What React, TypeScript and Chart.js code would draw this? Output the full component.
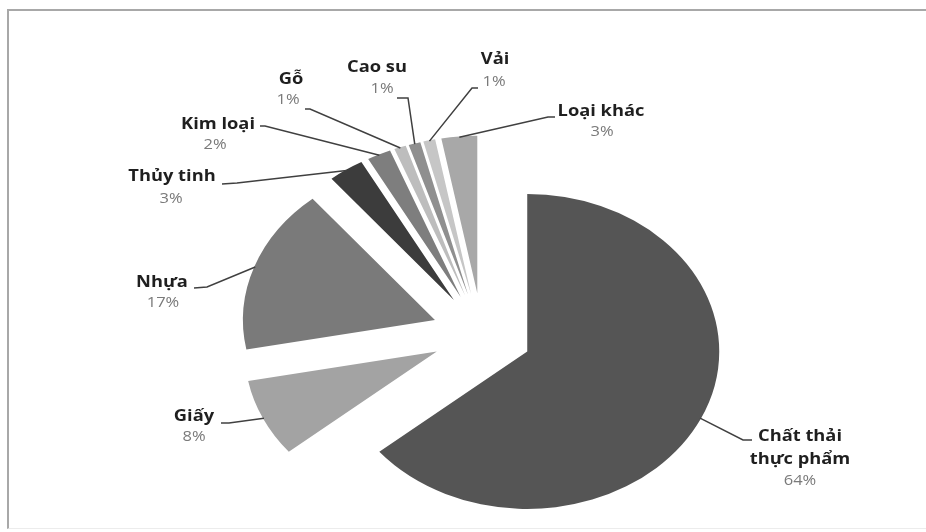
import React, { useEffect, useRef } from 'react';
import { Chart, registerables, ArcElement } from 'chart.js';

Chart.register(...registerables);

// ---- data ----
const categories = ['Chất thải\nthực phẩm', 'Giấy', 'Nhựa', 'Thủy tinh', 'Kim loại', 'Gỗ', 'Cao su', 'Vải', 'Loại khác'];
const values = [64, 8, 17, 3, 2, 1, 1, 1, 3];
const colors = ['#555555', '#a3a3a3', '#7a7a7a', '#3c3c3c', '#7e7e7e', '#bdbdbd', '#8f8f8f', '#c6c6c6', '#a8a8a8'];

// ---- layout / style ----
const EXPLODE = 50; // explosion distance (px, before squash)
const SQUASH = 0.82; // vertical squash of the pie
const TEXT_SX = 1.18; // horizontal stretch of text
const RADIUS = 192;

// label layout: name center, pct center, leader elbow, leader end
const labelLayout = [
  { name: [800, 437], lineGap: 23, pct: [800, 481], elbow: [743, 440], end: [752, 440] },
  { name: [194, 417], lineGap: 0, pct: [194, 437], elbow: [229, 423], end: [221, 423] },
  { name: [162, 283], lineGap: 0, pct: [163, 303], elbow: [207, 287], end: [194, 288] },
  { name: [172, 177], lineGap: 0, pct: [171, 199], elbow: [237, 183], end: [222, 184] },
  { name: [218, 125], lineGap: 0, pct: [215, 145], elbow: [265, 126], end: [260, 126] },
  { name: [291, 80], lineGap: 0, pct: [288, 100], elbow: [310, 109], end: [305, 109] },
  { name: [377, 68], lineGap: 0, pct: [382, 89], elbow: [408, 98], end: [397, 98] },
  { name: [495, 60], lineGap: 0, pct: [494, 82], elbow: [472, 88], end: [478, 88] },
  { name: [601, 112], lineGap: 0, pct: [602, 132], elbow: [548, 117], end: [555, 117] },
];

const NAME_FONT = 'bold 15.5px "Open Sans"';
const PCT_FONT = '14px "Open Sans"';

// patch arc drawing: explode each slice along its mid angle and squash vertically
const proto: any = ArcElement.prototype;
if (!proto.__exploded) {
  const orig = proto.draw;
  proto.draw = function (ctx: CanvasRenderingContext2D) {
    const half = (this.startAngle + this.endAngle) / 2;
    ctx.save();
    ctx.translate(this.x, this.y);
    ctx.scale(1, SQUASH);
    ctx.translate(Math.cos(half) * EXPLODE, Math.sin(half) * EXPLODE);
    ctx.translate(-this.x, -this.y);
    orig.call(this, ctx);
    ctx.restore();
  };
  proto.__exploded = true;
}

function stretchedText(ctx: CanvasRenderingContext2D, text: string, x: number, y: number) {
  ctx.save();
  ctx.translate(x, y);
  ctx.scale(TEXT_SX, 1);
  ctx.fillText(text, 0, 0);
  ctx.restore();
}

const labelPlugin = {
  id: 'pieLabels',
  afterDraw(chart: any) {
    const ctx: CanvasRenderingContext2D = chart.ctx;
    const meta = chart.getDatasetMeta(0);
    const data = chart.data.datasets[0].data as number[];
    meta.data.forEach((arc: any, i: number) => {
      const p = arc.getProps(['x', 'y', 'startAngle', 'endAngle', 'outerRadius'], true);
      const half = (p.startAngle + p.endAngle) / 2;
      const r = p.outerRadius + EXPLODE - 1;
      const ax = p.x + Math.cos(half) * r;
      const ay = p.y + Math.sin(half) * r * SQUASH;
      const L = labelLayout[i];
      ctx.save();
      ctx.strokeStyle = '#404040';
      ctx.lineWidth = 1.5;
      ctx.beginPath();
      ctx.moveTo(ax, ay);
      ctx.lineTo(L.elbow[0], L.elbow[1]);
      ctx.lineTo(L.end[0], L.end[1]);
      ctx.stroke();
      ctx.textAlign = 'center';
      ctx.textBaseline = 'middle';
      ctx.fillStyle = '#1f1f1f';
      ctx.font = NAME_FONT;
      const lines = (chart.data.labels[i] as string).split('\n');
      lines.forEach((ln, k) => stretchedText(ctx, ln, L.name[0], L.name[1] + k * L.lineGap));
      ctx.fillStyle = '#7a7a7a';
      ctx.font = PCT_FONT;
      stretchedText(ctx, `${data[i]}%`, L.pct[0], L.pct[1]);
      ctx.restore();
    });
  },
};

export default function App() {
  const ref = useRef<HTMLCanvasElement>(null);
  useEffect(() => {
    if (!ref.current) return;
    const chart = new Chart(ref.current, {
      type: 'pie',
      data: {
        labels: categories,
        datasets: [
          {
            data: values,
            backgroundColor: colors,
            borderWidth: 0,
            radius: RADIUS,
          } as any,
        ],
      },
      options: {
        responsive: false,
        animation: false,
        events: [],
        layout: { padding: { left: 38, top: 136, right: 0, bottom: 0 } },
        plugins: {
          legend: { display: false },
          tooltip: { enabled: false },
        },
      },
      plugins: [labelPlugin],
    });
    return () => chart.destroy();
  }, []);

  return (
    <div style={{ position: 'fixed', left: 0, top: 0, width: 926, height: 532, background: '#fff', overflow: 'hidden' }}>
      <div
        style={{
          position: 'absolute',
          left: 7,
          top: 9,
          width: 930,
          height: 517,
          borderTop: '2px solid #a8a8a8',
          borderLeft: '2px solid #a8a8a8',
          borderBottom: '1px solid #ececec',
        }}
      />
      <canvas ref={ref} width={926} height={532} style={{ position: 'absolute', left: 0, top: 0, width: 926, height: 532 }} />
    </div>
  );
}
